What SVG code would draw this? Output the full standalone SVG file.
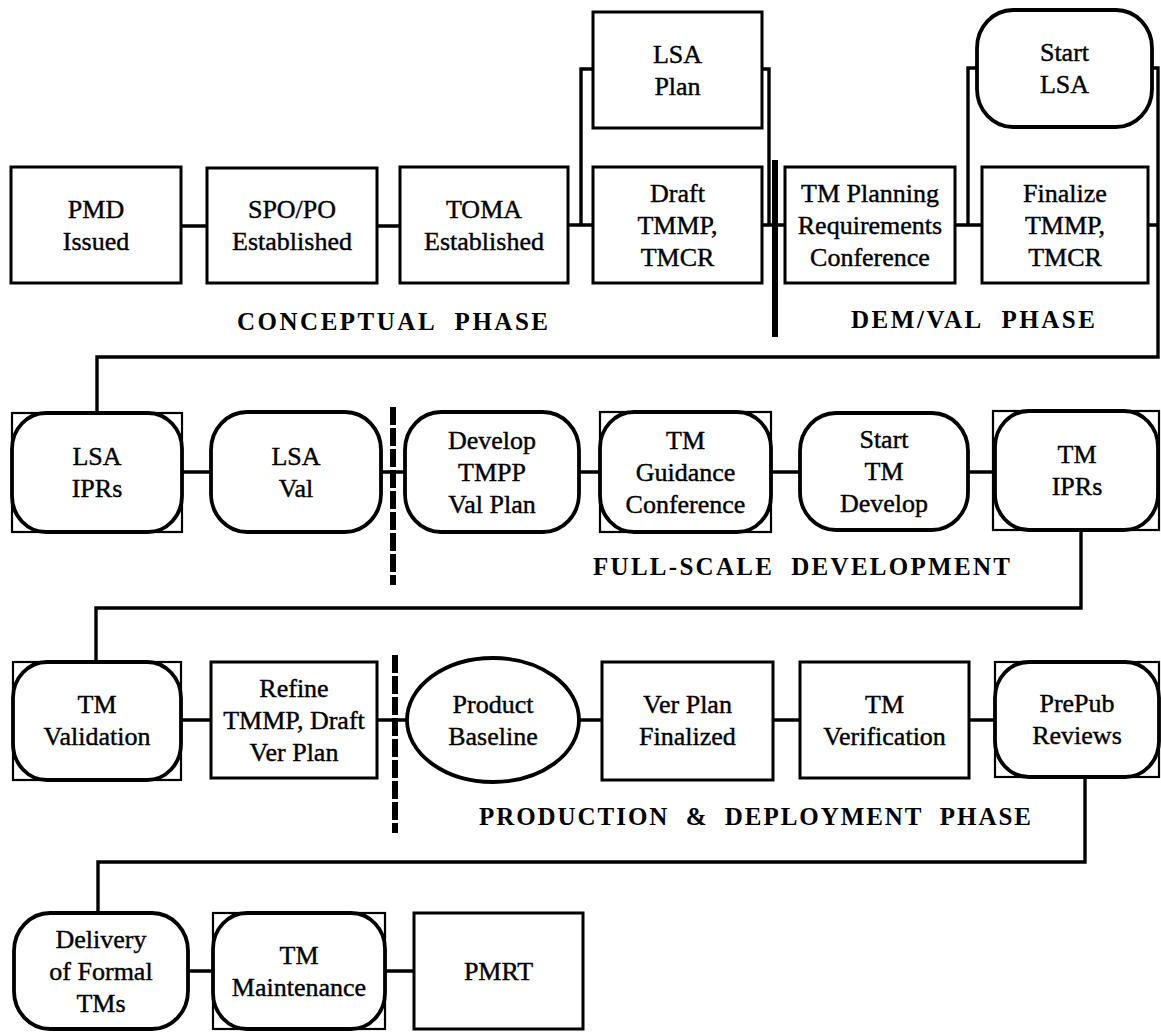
<svg xmlns="http://www.w3.org/2000/svg" width="1161" height="1032" viewBox="0 0 1161 1032">
<style>
.box{fill:#fff;stroke:#000;stroke-width:3}
.sq{fill:#fff;stroke:#000;stroke-width:2.2}
.rnd{fill:#fff;stroke:#000;stroke-width:3.8}
.conn{fill:none;stroke:#000;stroke-width:3.4;stroke-linejoin:miter;stroke-linecap:square}
.div{fill:none;stroke:#000;stroke-width:6}
.dash{stroke-dasharray:18 3}
.t{font-family:"Liberation Serif","Times New Roman",serif;font-size:26px;text-anchor:middle;fill:#000;stroke:#000;stroke-width:0.4}
.ph{font-family:"Liberation Serif","Times New Roman",serif;font-weight:bold;font-size:25px;fill:#000}
</style>
<rect width="1161" height="1032" fill="#fff"/>
<g id="connectors">
<path class="conn" d="M181 226H207M377 226H400M568 225H581M581 69V225M581 69H593M581 225H593M762 69H769M762 225H785M769 69V225"/>
<path class="conn" d="M955 225H982M968 68V225M968 68H977M1152 68H1158M1148 225H1158M1158 68V357H97V413"/>
<path class="conn" d="M182 472H211M381 472H405M579 472H600M771 472H800M968 472H993"/>
<path class="conn" d="M1081 530V608H96V662"/>
<path class="conn" d="M181 720H211M377 720H407M579 720H602M773 720H800M969 720H995"/>
<path class="conn" d="M1085 777V862H98V913"/>
<path class="conn" d="M188 971H213M385 971H414"/>
</g>
<g id="dividers">
<line class="div" x1="775" y1="160" x2="775" y2="337"/>
<line class="div dash" x1="393" y1="407" x2="393" y2="585"/>
<line class="div dash" x1="395" y1="655" x2="395" y2="833"/>
</g>
<g id="n-pmd"><rect class="box" x="11" y="167" width="170" height="116"/><text class="t"><tspan x="96" y="217.5">PMD</tspan><tspan x="96" y="249.5">Issued</tspan></text></g>
<g id="n-spo"><rect class="box" x="207" y="168" width="170" height="115"/><text class="t"><tspan x="292" y="217.5">SPO/PO</tspan><tspan x="292" y="249.5">Established</tspan></text></g>
<g id="n-toma"><rect class="box" x="400" y="167" width="168" height="116"/><text class="t"><tspan x="484" y="217.5">TOMA</tspan><tspan x="484" y="249.5">Established</tspan></text></g>
<g id="n-lsaplan"><rect class="box" x="593" y="12" width="169" height="116"/><text class="t"><tspan x="677.5" y="62.5">LSA</tspan><tspan x="677.5" y="94.5">Plan</tspan></text></g>
<g id="n-draft"><rect class="box" x="593" y="167" width="169" height="116"/><text class="t"><tspan x="677.5" y="201.5">Draft</tspan><tspan x="677.5" y="233.5">TMMP,</tspan><tspan x="677.5" y="265.5">TMCR</tspan></text></g>
<g id="n-tmplan"><rect class="box" x="785" y="167" width="170" height="116"/><text class="t"><tspan x="870" y="201.5">TM Planning</tspan><tspan x="870" y="233.5">Requirements</tspan><tspan x="870" y="265.5">Conference</tspan></text></g>
<g id="n-startlsa"><rect class="rnd" x="977" y="10" width="175" height="117" rx="36" ry="38"/><text class="t"><tspan x="1064.5" y="61">Start</tspan><tspan x="1064.5" y="93">LSA</tspan></text></g>
<g id="n-finalize"><rect class="box" x="982" y="167" width="166" height="116"/><text class="t"><tspan x="1065" y="201.5">Finalize</tspan><tspan x="1065" y="233.5">TMMP,</tspan><tspan x="1065" y="265.5">TMCR</tspan></text></g>
<g id="n-lsaiprs"><rect class="sq" x="12" y="413" width="170" height="119"/><rect class="rnd" x="12" y="413" width="170" height="119" rx="34" ry="36"/><text class="t"><tspan x="97" y="464.5">LSA</tspan><tspan x="97" y="496.5">IPRs</tspan></text></g>
<g id="n-lsaval"><rect class="rnd" x="211" y="412" width="170" height="120" rx="36" ry="38"/><text class="t"><tspan x="296" y="464.5">LSA</tspan><tspan x="296" y="496.5">Val</tspan></text></g>
<g id="n-develop"><rect class="rnd" x="405" y="412" width="174" height="120" rx="36" ry="38"/><text class="t"><tspan x="492" y="448.5">Develop</tspan><tspan x="492" y="480.5">TMPP</tspan><tspan x="492" y="512.5">Val Plan</tspan></text></g>
<g id="n-guidance"><rect class="sq" x="600" y="412" width="171" height="120"/><rect class="rnd" x="600" y="412" width="171" height="120" rx="34" ry="36"/><text class="t"><tspan x="685.5" y="448.5">TM</tspan><tspan x="685.5" y="480.5">Guidance</tspan><tspan x="685.5" y="512.5">Conference</tspan></text></g>
<g id="n-starttm"><rect class="rnd" x="800" y="413" width="168" height="117" rx="36" ry="38"/><text class="t"><tspan x="884" y="448">Start</tspan><tspan x="884" y="480">TM</tspan><tspan x="884" y="512">Develop</tspan></text></g>
<g id="n-tmiprs"><rect class="sq" x="993" y="411" width="166" height="119"/><rect class="rnd" x="995" y="411" width="163" height="119" rx="34" ry="36"/><text class="t"><tspan x="1077" y="463">TM</tspan><tspan x="1077" y="495">IPRs</tspan></text></g>
<g id="n-tmval"><rect class="sq" x="13" y="662" width="168" height="118"/><rect class="rnd" x="13" y="662" width="168" height="118" rx="34" ry="36"/><text class="t"><tspan x="97" y="712.5">TM</tspan><tspan x="97" y="744.5">Validation</tspan></text></g>
<g id="n-refine"><rect class="box" x="211" y="662" width="166" height="116"/><text class="t"><tspan x="294" y="696.5">Refine</tspan><tspan x="294" y="728.5">TMMP, Draft</tspan><tspan x="294" y="760.5">Ver Plan</tspan></text></g>
<g id="n-product"><ellipse class="rnd" cx="493" cy="720" rx="86" ry="62"/><text class="t"><tspan x="493" y="712.5">Product</tspan><tspan x="493" y="744.5">Baseline</tspan></text></g>
<g id="n-verplan"><rect class="box" x="602" y="662" width="171" height="118"/><text class="t"><tspan x="687.5" y="712.5">Ver Plan</tspan><tspan x="687.5" y="744.5">Finalized</tspan></text></g>
<g id="n-tmverif"><rect class="box" x="800" y="662" width="169" height="116"/><text class="t"><tspan x="884.5" y="712.5">TM</tspan><tspan x="884.5" y="744.5">Verification</tspan></text></g>
<g id="n-prepub"><rect class="sq" x="995" y="662" width="164" height="115"/><rect class="rnd" x="995" y="662" width="164" height="115" rx="34" ry="36"/><text class="t"><tspan x="1077" y="712">PrePub</tspan><tspan x="1077" y="744">Reviews</tspan></text></g>
<g id="n-delivery"><rect class="rnd" x="14" y="913" width="174" height="116" rx="36" ry="38"/><text class="t"><tspan x="101" y="947.5">Delivery</tspan><tspan x="101" y="979.5">of Formal</tspan><tspan x="101" y="1011.5">TMs</tspan></text></g>
<g id="n-maint"><rect class="sq" x="213" y="913" width="172" height="116"/><rect class="rnd" x="213" y="913" width="172" height="116" rx="34" ry="36"/><text class="t"><tspan x="299" y="963.5">TM</tspan><tspan x="299" y="995.5">Maintenance</tspan></text></g>
<g id="n-pmrt"><rect class="box" x="414" y="913" width="169" height="116"/><text class="t"><tspan x="498.5" y="980">PMRT</tspan></text></g>
<g id="labels">
<text class="ph" x="237" y="330" textLength="311" lengthAdjust="spacing">CONCEPTUAL&#160;&#160;PHASE</text>
<text class="ph" x="851" y="328" textLength="244" lengthAdjust="spacing">DEM/VAL&#160;&#160;PHASE</text>
<text class="ph" x="593" y="575" textLength="417" lengthAdjust="spacing">FULL-SCALE&#160;&#160;DEVELOPMENT</text>
<text class="ph" x="479" y="825" textLength="552" lengthAdjust="spacing">PRODUCTION&#160;&#160;&amp;&#160;&#160;DEPLOYMENT&#160;&#160;PHASE</text>
</g>
</svg>
